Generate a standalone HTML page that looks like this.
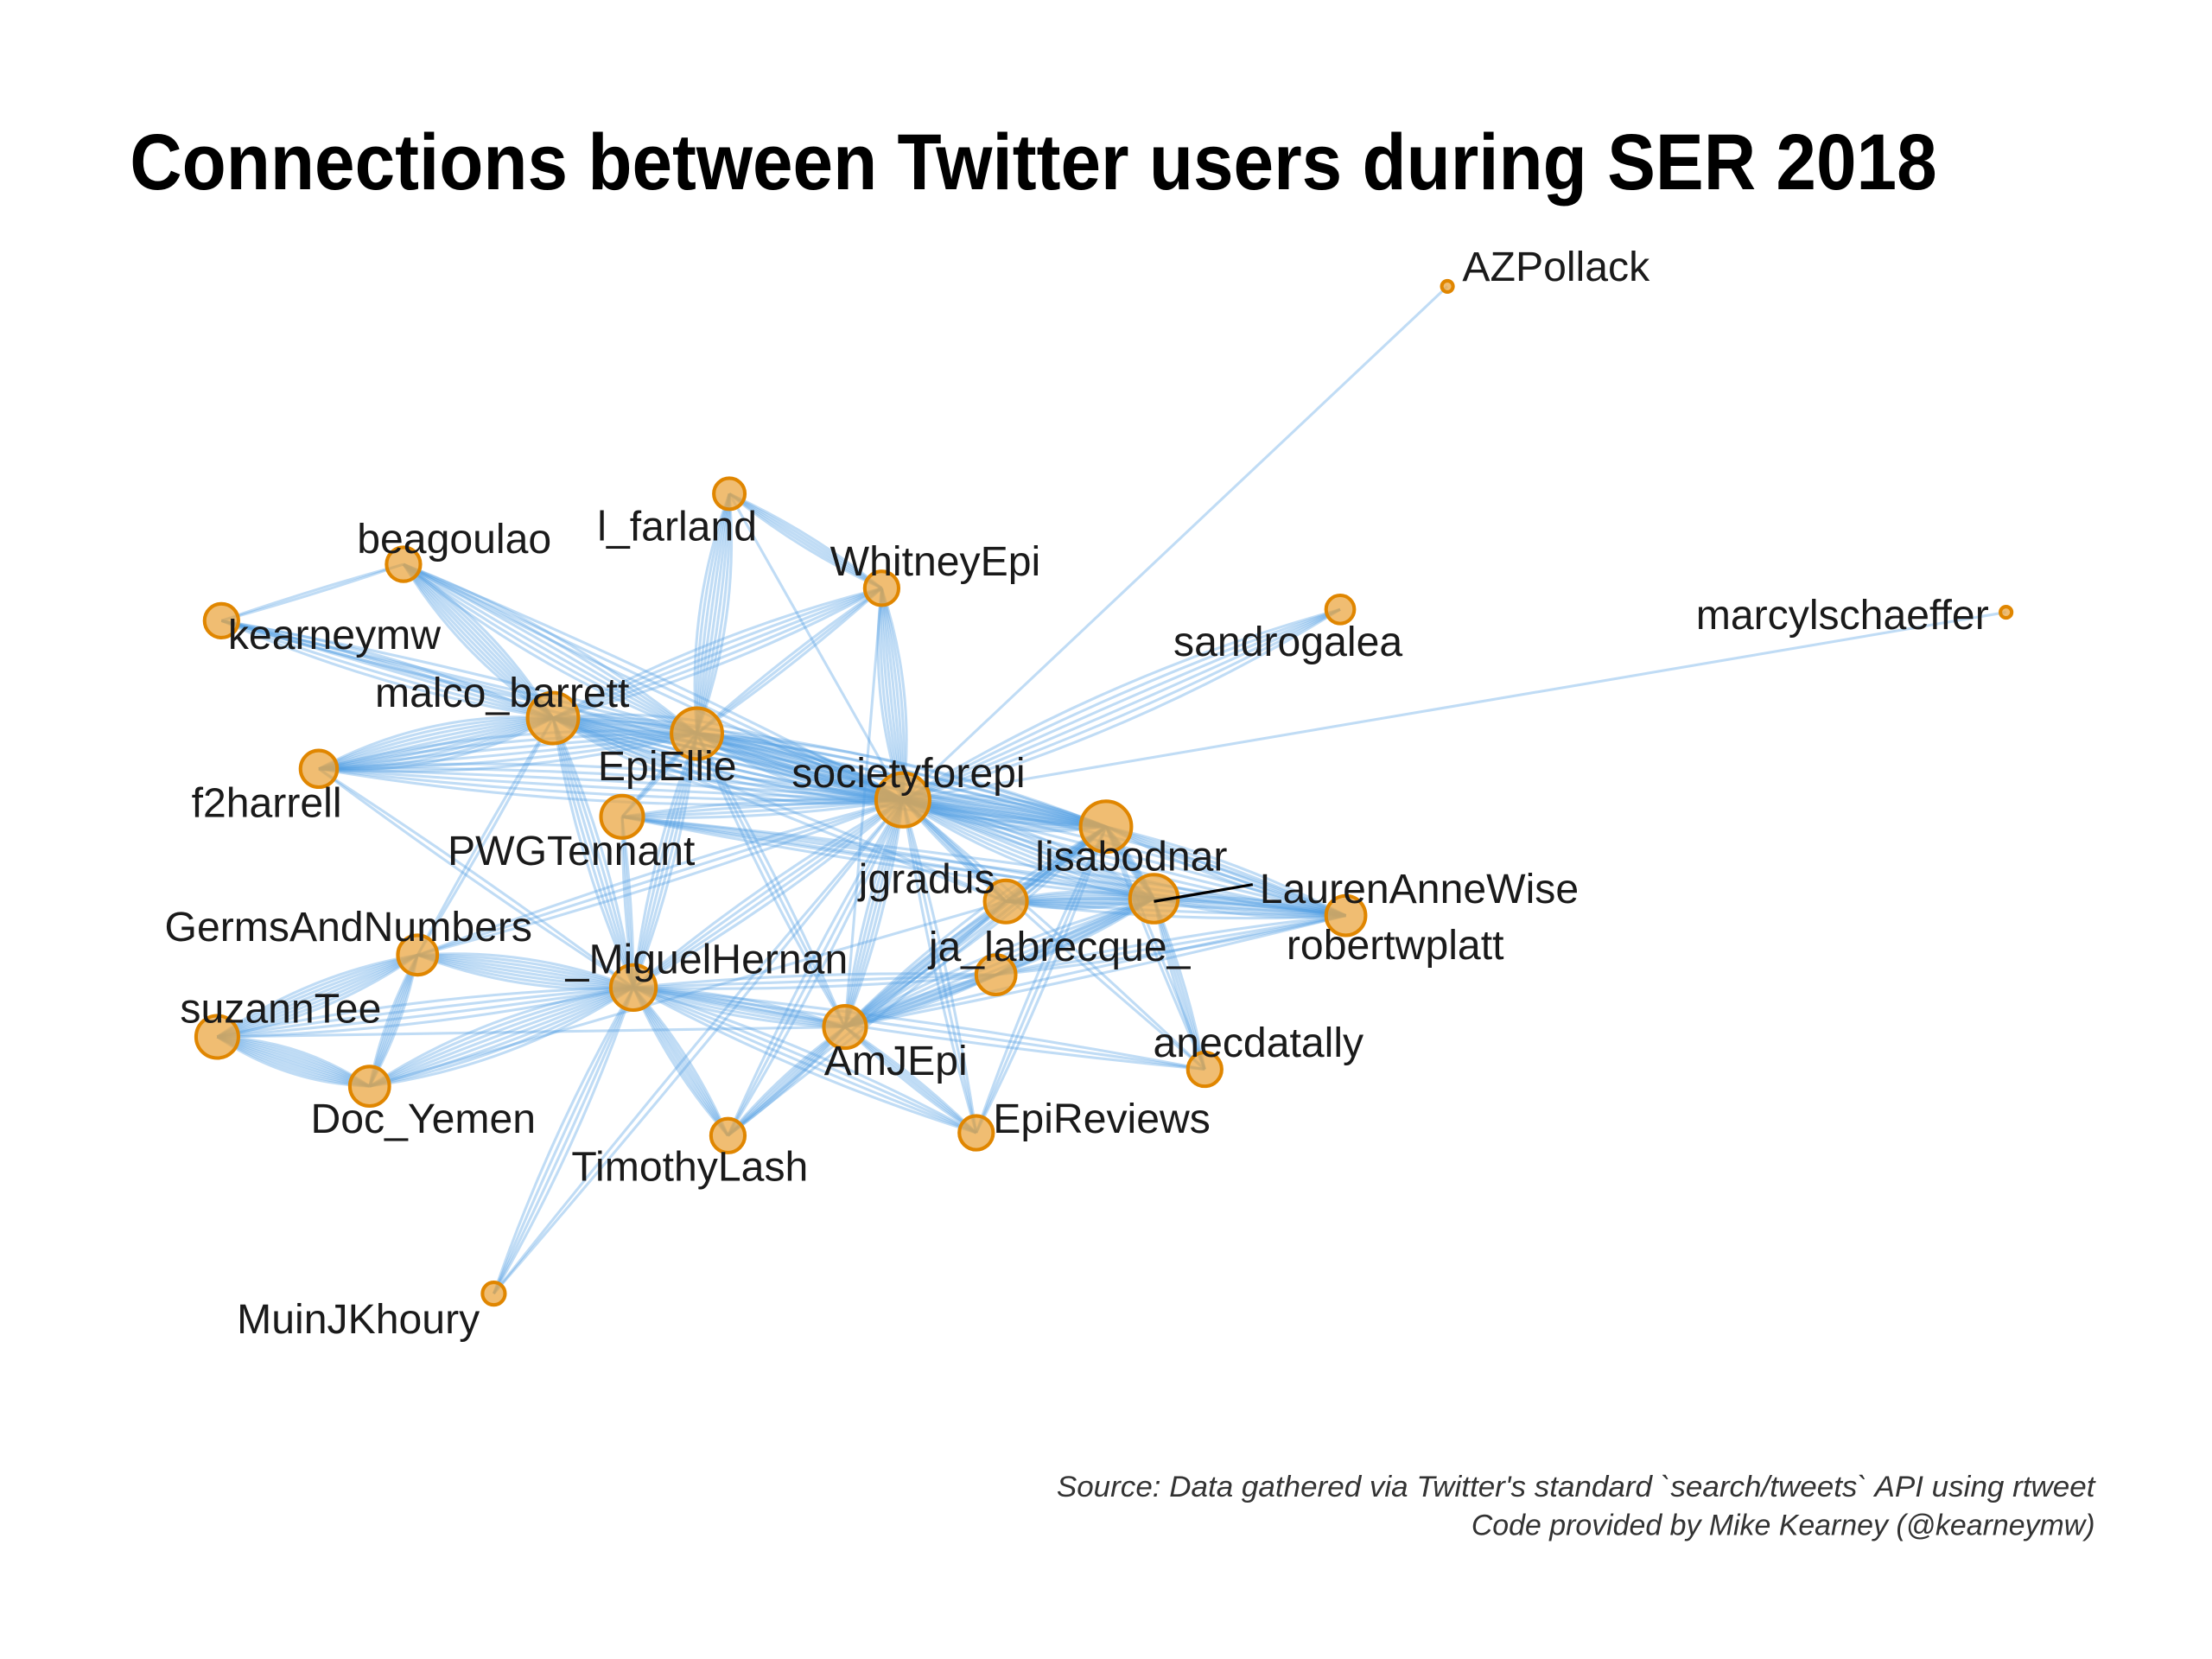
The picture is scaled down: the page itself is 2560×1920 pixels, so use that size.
<!DOCTYPE html>
<html><head><meta charset="utf-8"><style>
html,body{margin:0;padding:0;background:#fff;}
svg{display:block;}
</style></head><body>
<svg id="chart" width="2560" height="1920" viewBox="0 0 1568 1176" xmlns="http://www.w3.org/2000/svg">
<rect width="1568" height="1176" fill="#fff"/>
<text x="92" y="134" font-family="'Liberation Sans Narrow','Liberation Sans',sans-serif" font-weight="bold" font-size="56" textLength="1281" lengthAdjust="spacingAndGlyphs" fill="#000">Connections between Twitter users during SER 2018</text>
<g id="edges"></g>
<g id="nodes"></g>
<line x1="818" y1="639" x2="888" y2="627" stroke="#000" stroke-width="2"/>
<g id="labels"></g>
<text x="1485" y="1061" text-anchor="end" font-family="'Liberation Sans Narrow','Liberation Sans',sans-serif" font-style="italic" font-size="21" textLength="736" lengthAdjust="spacingAndGlyphs" fill="#333">Source: Data gathered via Twitter's standard `search/tweets` API using rtweet</text>
<text x="1485" y="1088" text-anchor="end" font-family="'Liberation Sans Narrow','Liberation Sans',sans-serif" font-style="italic" font-size="21" textLength="442" lengthAdjust="spacingAndGlyphs" fill="#333">Code provided by Mike Kearney (@kearneymw)</text>
</svg>
<script>
const nodeNames=["AZPollack","marcylschaeffer","sandrogalea","l_farland","WhitneyEpi","beagoulao","kearneymw","malco_barrett","EpiEllie","f2harrell","PWGTennant","societyforepi","lisabodnar","jgradus","LaurenAnneWise","robertwplatt","ja_labrecque_","GermsAndNumbers","_MiguelHernan","suzannTee","AmJEpi","Doc_Yemen","anecdatally","TimothyLash","EpiReviews","MuinJKhoury"];
const nodeX=[1026,1422,950,517,625,286,157,392,494,226,441,640,784,713,818,954,706,296,449,154,599,262,854,516,692,350];
const nodeY=[203,434,432,350,417,400,440,509,520,545,579,567,586,639,637,649,691,677,700,735,728,770,758,805,803,917];
const nodeSize=[4,4,10,11,12,12,12,18,18,13,15,19,18,15,17,14,14,14,16,15,15,14,12,12,12,8];
const labelX=[1103,1306,913,480,663,322,237,356,473,189,405,644,802,657,1006,989,751,247,501,199,635,300,892,489,781,254];
const labelY=[197,444,463,381,406,390,458,499,551,577,611,556,615,631,638,678,679,665,688,723,760,801,747,835,801,943];
const edgeFrom=["AZPollack","marcylschaeffer","sandrogalea","l_farland","l_farland","l_farland","WhitneyEpi","WhitneyEpi","WhitneyEpi","WhitneyEpi","beagoulao","beagoulao","beagoulao","beagoulao","kearneymw","kearneymw","kearneymw","malco_barrett","f2harrell","f2harrell","f2harrell","malco_barrett","malco_barrett","malco_barrett","malco_barrett","malco_barrett","EpiEllie","EpiEllie","EpiEllie","EpiEllie","EpiEllie","PWGTennant","PWGTennant","PWGTennant","PWGTennant","societyforepi","societyforepi","societyforepi","societyforepi","societyforepi","societyforepi","societyforepi","societyforepi","societyforepi","societyforepi","lisabodnar","lisabodnar","lisabodnar","lisabodnar","lisabodnar","jgradus","jgradus","jgradus","LaurenAnneWise","LaurenAnneWise","LaurenAnneWise","LaurenAnneWise","ja_labrecque_","ja_labrecque_","ja_labrecque_","_MiguelHernan","_MiguelHernan","_MiguelHernan","_MiguelHernan","_MiguelHernan","_MiguelHernan","_MiguelHernan","_MiguelHernan","GermsAndNumbers","GermsAndNumbers","suzannTee","suzannTee","AmJEpi","AmJEpi","AmJEpi","TimothyLash","EpiReviews","Doc_Yemen","MuinJKhoury"];
const edgeTo=["societyforepi","societyforepi","societyforepi","WhitneyEpi","EpiEllie","societyforepi","societyforepi","malco_barrett","EpiEllie","AmJEpi","malco_barrett","EpiEllie","kearneymw","societyforepi","malco_barrett","EpiEllie","societyforepi","f2harrell","EpiEllie","societyforepi","_MiguelHernan","societyforepi","lisabodnar","_MiguelHernan","GermsAndNumbers","jgradus","societyforepi","lisabodnar","_MiguelHernan","PWGTennant","AmJEpi","societyforepi","robertwplatt","_MiguelHernan","LaurenAnneWise","lisabodnar","LaurenAnneWise","jgradus","AmJEpi","_MiguelHernan","GermsAndNumbers","EpiReviews","TimothyLash","robertwplatt","anecdatally","LaurenAnneWise","robertwplatt","jgradus","AmJEpi","anecdatally","LaurenAnneWise","robertwplatt","AmJEpi","robertwplatt","AmJEpi","anecdatally","ja_labrecque_","AmJEpi","_MiguelHernan","robertwplatt","GermsAndNumbers","suzannTee","Doc_Yemen","AmJEpi","TimothyLash","EpiReviews","MuinJKhoury","anecdatally","suzannTee","Doc_Yemen","Doc_Yemen","AmJEpi","TimothyLash","EpiReviews","robertwplatt","lisabodnar","lisabodnar","jgradus","societyforepi"];
const edgeCount=[1,1,6,5,8,1,8,5,3,1,8,6,2,3,5,3,2,10,6,6,2,12,8,5,2,2,10,6,5,3,3,4,3,3,3,10,8,4,5,4,3,3,3,6,2,6,5,4,5,2,8,4,4,6,5,4,5,5,3,3,8,4,8,6,6,4,4,3,8,6,10,1,5,4,2,2,3,1,2];

const NS="http://www.w3.org/2000/svg";
const eg=document.getElementById('edges'),ng=document.getElementById('nodes'),lg=document.getElementById('labels');
function idx(n){return nodeNames.indexOf(n);}
for(let e=0;e<edgeFrom.length;e++){
  const a=idx(edgeFrom[e]),b=idx(edgeTo[e]);
  const x1=nodeX[a],y1=nodeY[a],x2=nodeX[b],y2=nodeY[b];
  const dx=x2-x1,dy=y2-y1,L=Math.hypot(dx,dy)||1;
  const px=-dy/L,py=dx/L;
  const n=edgeCount[e];
  for(let k=0;k<n;k++){
    const off=(k-(n-1)/2)*Math.min(6,L*0.02)*1.6;
    const cx=(x1+x2)/2+px*off,cy=(y1+y2)/2+py*off;
    const p=document.createElementNS(NS,'path');
    p.setAttribute('d',`M${x1},${y1} Q${cx},${cy} ${x2},${y2}`);
    p.setAttribute('fill','none');
    p.setAttribute('stroke','#4f9fe3');
    p.setAttribute('stroke-opacity','0.36');
    p.setAttribute('stroke-width','1.9');
    
    
    eg.appendChild(p);
  }
}
for(let i=0;i<nodeNames.length;i++){
  const c=document.createElementNS(NS,'circle');
  c.setAttribute('cx',nodeX[i]);c.setAttribute('cy',nodeY[i]);c.setAttribute('r',nodeSize[i]);
  c.setAttribute('fill','#eba743');c.setAttribute('fill-opacity','0.75');
  c.setAttribute('stroke','#e08600');c.setAttribute('stroke-width','2.5');
  
  
  ng.appendChild(c);
  const t=document.createElementNS(NS,'text');
  t.setAttribute('x',labelX[i]);t.setAttribute('y',labelY[i]+2);
  t.setAttribute('text-anchor','middle');
  t.setAttribute('font-family',"'Liberation Sans',sans-serif");
  t.setAttribute('font-size','29.5');t.setAttribute('fill','#1a1a1a');
  t.textContent=nodeNames[i];
  
  
  lg.appendChild(t);
}
</script>
</body></html>
